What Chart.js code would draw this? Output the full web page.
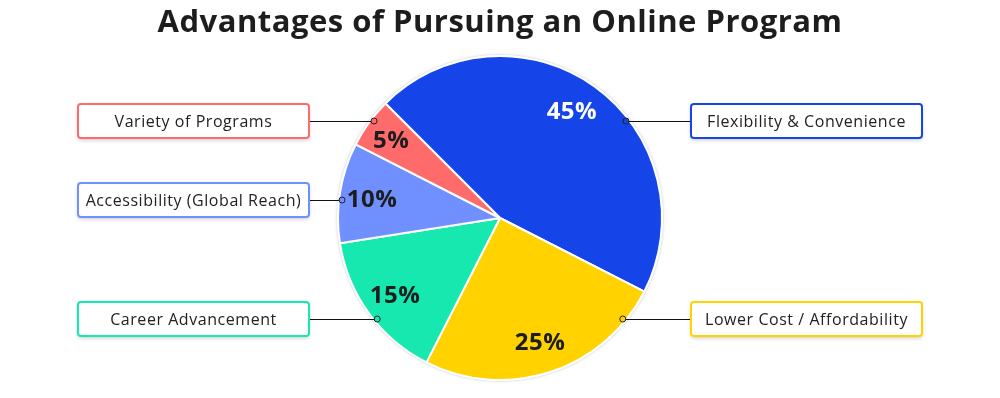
<!DOCTYPE html>
<html>
<head>
<meta charset="utf-8">
<script src="https://cdn.jsdelivr.net/npm/chart.js@4"></script>
<style>
  html, body { margin: 0; padding: 0; background: #fff; }
  #wrap { width: 1000px; height: 398px; }
</style>
</head>
<body>
<div id="wrap"><canvas id="chart" width="1000" height="398"></canvas></div>
<script>
const title = 'Advantages of Pursuing an Online Program';
const categories = ['Flexibility & Convenience', 'Lower Cost / Affordability', 'Career Advancement', 'Accessibility (Global Reach)', 'Variety of Programs'];
const shares = [45, 25, 15, 10, 5];
const colors = ['#1545E8', '#FFD200', '#16E8B0', '#7090FF', '#FF6B6B'];
const valueColors = ['#ffffff', '#1d1d1d', '#1d1d1d', '#1d1d1d', '#1d1d1d'];

// callout boxes: side and vertical centre
const callouts = [
  { side: 'right', y: 121 },
  { side: 'right', y: 319 },
  { side: 'left', y: 319 },
  { side: 'left', y: 200 },
  { side: 'left', y: 121 },
];

const FONT = '"Open Sans", "Noto Sans", sans-serif';

function roundRect(ctx, x, y, w, h, r) {
  ctx.beginPath();
  ctx.moveTo(x + r, y);
  ctx.lineTo(x + w - r, y);
  ctx.quadraticCurveTo(x + w, y, x + w, y + r);
  ctx.lineTo(x + w, y + h - r);
  ctx.quadraticCurveTo(x + w, y + h, x + w - r, y + h);
  ctx.lineTo(x + r, y + h);
  ctx.quadraticCurveTo(x, y + h, x, y + h - r);
  ctx.lineTo(x, y + r);
  ctx.quadraticCurveTo(x, y, x + r, y);
  ctx.closePath();
}

const decorations = {
  id: 'decorations',
  beforeDatasetsDraw(chart) {
    const arc = chart.getDatasetMeta(0).data[0];
    const ctx = chart.ctx;
    ctx.save();
    ctx.beginPath();
    ctx.arc(arc.x, arc.y, arc.outerRadius + 1, 0, Math.PI * 2);
    ctx.fillStyle = '#fff';
    ctx.shadowColor = 'rgba(0,0,0,0.25)';
    ctx.shadowBlur = 3;
    ctx.fill();
    ctx.restore();
  },
  afterDatasetsDraw(chart) {
    const ctx = chart.ctx;
    const arcs = chart.getDatasetMeta(0).data;
    const cx = arcs[0].x, cy = arcs[0].y, R = arcs[0].outerRadius;

    // title
    ctx.save();
    ctx.fillStyle = '#1d1d1d';
    ctx.font = '700 31px ' + FONT;
    ctx.letterSpacing = '0.5px';
    ctx.textAlign = 'center';
    ctx.textBaseline = 'middle';
    ctx.fillText(title, 500, 23);

    // percentage labels
    ctx.font = '700 24px ' + FONT;
    ctx.letterSpacing = '0.5px';
    arcs.forEach((arc, i) => {
      const mid = (arc.startAngle + arc.endAngle) / 2 - (i === 0 ? 0.04 : 0);
      const r = R * (i === 4 ? 0.83 : 0.8);
      ctx.fillStyle = valueColors[i];
      ctx.fillText(shares[i] + '%', cx + Math.cos(mid) * r, cy + Math.sin(mid) * r + 2);
    });

    // callouts
    const boxW = 231, boxH = 34;
    callouts.forEach((c, i) => {
      const dy = c.y - cy;
      const rr = R - 3;
      const dx = Math.sqrt(Math.max(rr * rr - dy * dy, 0));
      const dotX = c.side === 'right' ? cx + dx : cx - dx;
      const boxX = c.side === 'right' ? 691 : 78;
      const lineX = c.side === 'right' ? boxX : boxX + boxW;

      ctx.strokeStyle = '#111';
      ctx.lineWidth = 1;
      ctx.beginPath();
      ctx.moveTo(dotX, c.y + 0.5);
      ctx.lineTo(lineX, c.y + 0.5);
      ctx.stroke();

      ctx.beginPath();
      ctx.arc(dotX, c.y, 3, 0, Math.PI * 2);
      ctx.fillStyle = colors[i];
      ctx.fill();
      ctx.strokeStyle = '#222';
      ctx.stroke();

      ctx.save();
      ctx.shadowColor = 'rgba(0,0,0,0.22)';
      ctx.shadowBlur = 4;
      ctx.shadowOffsetY = 2;
      roundRect(ctx, boxX, c.y - boxH / 2, boxW, boxH, 3);
      ctx.fillStyle = '#fff';
      ctx.fill();
      ctx.restore();
      roundRect(ctx, boxX, c.y - boxH / 2, boxW, boxH, 3);
      ctx.lineWidth = 2;
      ctx.strokeStyle = colors[i];
      ctx.stroke();

      ctx.fillStyle = '#222';
      ctx.font = '400 16px ' + FONT;
      ctx.letterSpacing = '0.55px';
      ctx.textAlign = 'center';
      ctx.fillText(categories[i], boxX + boxW / 2, c.y + 1);
    });
    ctx.restore();
  }
};

new Chart(document.getElementById('chart'), {
  type: 'pie',
  data: {
    labels: categories,
    datasets: [{
      data: shares,
      backgroundColor: colors,
      borderColor: '#ffffff',
      borderWidth: 2,
      hoverOffset: 0,
    }],
  },
  options: {
    responsive: false,
    animation: false,
    rotation: -45,
    layout: { padding: { top: 55, bottom: 17, left: 0, right: 0 } },
    plugins: {
      legend: { display: false },
      tooltip: { enabled: false },
      title: { display: false },
    },
  },
  plugins: [decorations],
});
</script>
</body>
</html>
